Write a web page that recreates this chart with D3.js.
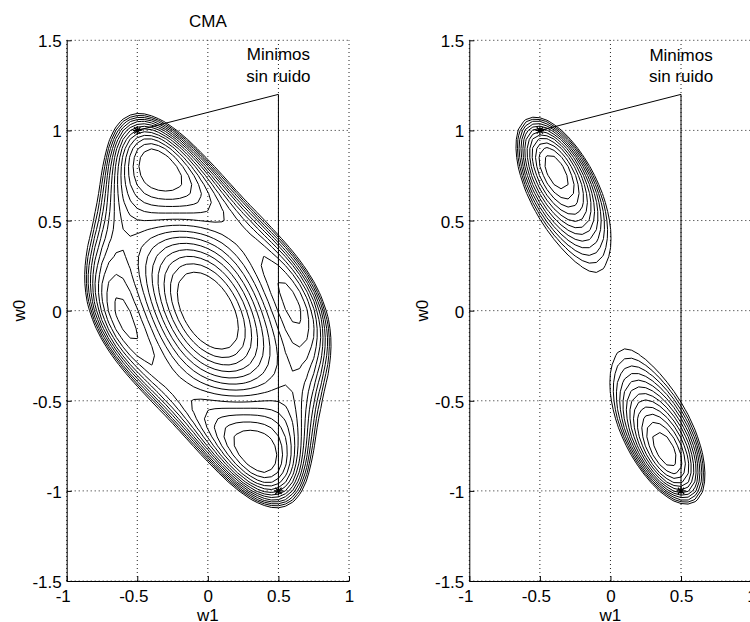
<!DOCTYPE html>
<html>
<head>
<meta charset="utf-8">
<script src="https://d3js.org/d3.v7.min.js"></script>
<style>
  body { margin: 0; background: #fff; }
  text { font-family: "Liberation Sans", Arial, Helvetica, sans-serif; font-size: 17px; fill: #000; }
  .grid { stroke: #222; stroke-width: 1; stroke-dasharray: 1 3; fill: none; }
  .contorno { fill: none; stroke: #000; stroke-width: 1; }
</style>
</head>
<body>
<svg id="fig" width="750" height="622"></svg>
<script>
  // ticks de los ejes
  const ticksW1 = [-1, -0.5, 0, 0.5, 1];
  const ticksW0 = [-1.5, -1, -0.5, 0, 0.5, 1, 1.5];

  // malla de evaluacion (paso en w1 y w0)
  const pasoMalla = 0.05;

  // canal AR(1): x(n) = a(n) + 0.5 x(n-1) + ruido
  const poloCanal = 0.5;
  const ruido = [0.071, -0.6];   // varianza, correlacion entre muestras

  // niveles de contorno
  const nivelesCMA = [0.36, 0.405, 0.45, 0.495, 0.54, 0.585, 0.63, 0.675, 0.72,
                      0.765, 0.81, 0.855, 0.90];
  const coefDer = [1.92, 1.154, 4, 8];   // a, k, b0, b1 de la superficie derecha
  const nivelesDer = [0.35, 0.40, 0.45, 0.50, 0.55, 0.60, 0.65, 0.70, 0.75, 0.80, 0.85, 0.90];

  // minimos sin ruido y codo de la etiqueta
  const minimos = [[-0.5, 1], [0.5, -1]];
  const codoEtiqueta = [0.5, 1.2];

  function costeCMA(w1, w0) {
    const p = poloCanal, c = p * w0 + w1;
    const A = w0 * w0 + c * c / (1 - p * p);
    const S4 = Math.pow(w0, 4) + Math.pow(c, 4) / (1 - Math.pow(p, 4));
    const P = A + ruido[0] * (w0 * w0 + w1 * w1 + 2 * ruido[1] * w0 * w1);
    return 3 * P * P - 2 * S4 - 2 * P + 1;
  }

  function costeDer(w1, w0) {
    const [a, k, b0, b1] = coefDer;
    const c = w1 + poloCanal * w0, u = w0 * w0;
    return a * u * u - 2 * k * u + 1 + (b0 + b1 * u) * c * c;
  }

  const svg = d3.select("#fig");
  const yRango = [581, 40.3];

  const paneles = [
    { x0: 66.7, coste: costeCMA, niveles: nivelesCMA, titulo: "CMA", yEtiq: 59.5 },
    { x0: 469.3, coste: costeDer, niveles: nivelesDer, titulo: null, yEtiq: 61 }
  ];

  paneles.forEach(pn => {
    const x = d3.scaleLinear().domain([-1, 1]).range([pn.x0, pn.x0 + 282.3]);
    const y = d3.scaleLinear().domain([-1.5, 1.5]).range(yRango);
    const g = svg.append("g");

    // rejilla punteada
    g.selectAll(".gv").data(ticksW1).enter().append("line")
      .attr("class", "grid")
      .attr("x1", d => x(d)).attr("x2", d => x(d))
      .attr("y1", y(-1.5)).attr("y2", y(1.5));
    g.selectAll(".gh").data(ticksW0).enter().append("line")
      .attr("class", "grid")
      .attr("x1", x(-1)).attr("x2", x(1))
      .attr("y1", d => y(d)).attr("y2", d => y(d));

    // superficie en la malla
    const nx = Math.round(2 / pasoMalla) + 1;
    const ny = Math.round(3 / pasoMalla) + 1;
    const valores = new Array(nx * ny);
    for (let j = 0; j < ny; j++) {
      for (let i = 0; i < nx; i++) {
        valores[j * nx + i] = -pn.coste(-1 + i * pasoMalla, -1.5 + j * pasoMalla);
      }
    }
    const contornos = d3.contours().size([nx, ny])
      .thresholds(pn.niveles.map(v => -v))(valores);

    const proy = d3.geoTransform({
      point: function(gx, gy) {
        this.stream.point(x(-1 + (gx - 0.5) * pasoMalla), y(-1.5 + (gy - 0.5) * pasoMalla));
      }
    });
    g.selectAll(".contorno").data(contornos).enter().append("path")
      .attr("class", "contorno")
      .attr("d", d3.geoPath(proy));

    // lineas de la etiqueta
    const linea = d3.line().x(d => x(d[0])).y(d => y(d[1]));
    g.append("path")
      .attr("d", linea([minimos[0], codoEtiqueta, minimos[1]]))
      .attr("fill", "none").attr("stroke", "#000").attr("stroke-width", 1);

    // asteriscos
    const r = 4.5;
    minimos.forEach(m => {
      const cx = x(m[0]), cy = y(m[1]);
      g.append("path")
        .attr("d", `M${cx - r},${cy}H${cx + r}M${cx},${cy - r}V${cy + r}` +
                   `M${cx - r * 0.7},${cy - r * 0.7}L${cx + r * 0.7},${cy + r * 0.7}` +
                   `M${cx - r * 0.7},${cy + r * 0.7}L${cx + r * 0.7},${cy - r * 0.7}`)
        .attr("stroke", "#000").attr("stroke-width", 1.2);
    });

    g.append("text").attr("x", x(codoEtiqueta[0])).attr("y", pn.yEtiq)
      .attr("text-anchor", "middle").text("Minimos");
    g.append("text").attr("x", x(codoEtiqueta[0])).attr("y", 82)
      .attr("text-anchor", "middle").text("sin ruido");

    // ejes
    const fmt = d => String(d);
    const ejeX = g.append("g").attr("transform", `translate(0,${y(-1.5)})`)
      .call(d3.axisBottom(x).tickValues(ticksW1).tickFormat(fmt).tickSizeInner(-5).tickSizeOuter(0).tickPadding(8.5));
    const ejeY = g.append("g").attr("transform", `translate(${x(-1)},0)`)
      .call(d3.axisLeft(y).tickValues(ticksW0).tickFormat(fmt).tickSizeInner(-5).tickSizeOuter(0).tickPadding(5));
    [ejeX, ejeY].forEach(e => {
      e.selectAll("text").style("font-size", "17px").style("font-family", "Liberation Sans, Arial, sans-serif").attr("fill", "#000");
      e.select(".domain").attr("stroke", "#000");
      e.selectAll(".tick line").attr("stroke", "#000");
    });
    ejeX.selectAll("text").filter(d => d < 0).attr("dx", -4);
    ejeY.selectAll("text").attr("dy", "0.38em");

    g.append("text").attr("x", x(0)).attr("y", 620.5)
      .attr("text-anchor", "middle").text("w1");
    g.append("text")
      .attr("transform", `translate(${pn.x0 - 41.5},${y(0)}) rotate(-90)`)
      .attr("text-anchor", "middle").text("w0");

    if (pn.titulo) {
      g.append("text").attr("x", x(0)).attr("y", 27)
        .attr("text-anchor", "middle").text(pn.titulo);
    }
  });
</script>
</body>
</html>
